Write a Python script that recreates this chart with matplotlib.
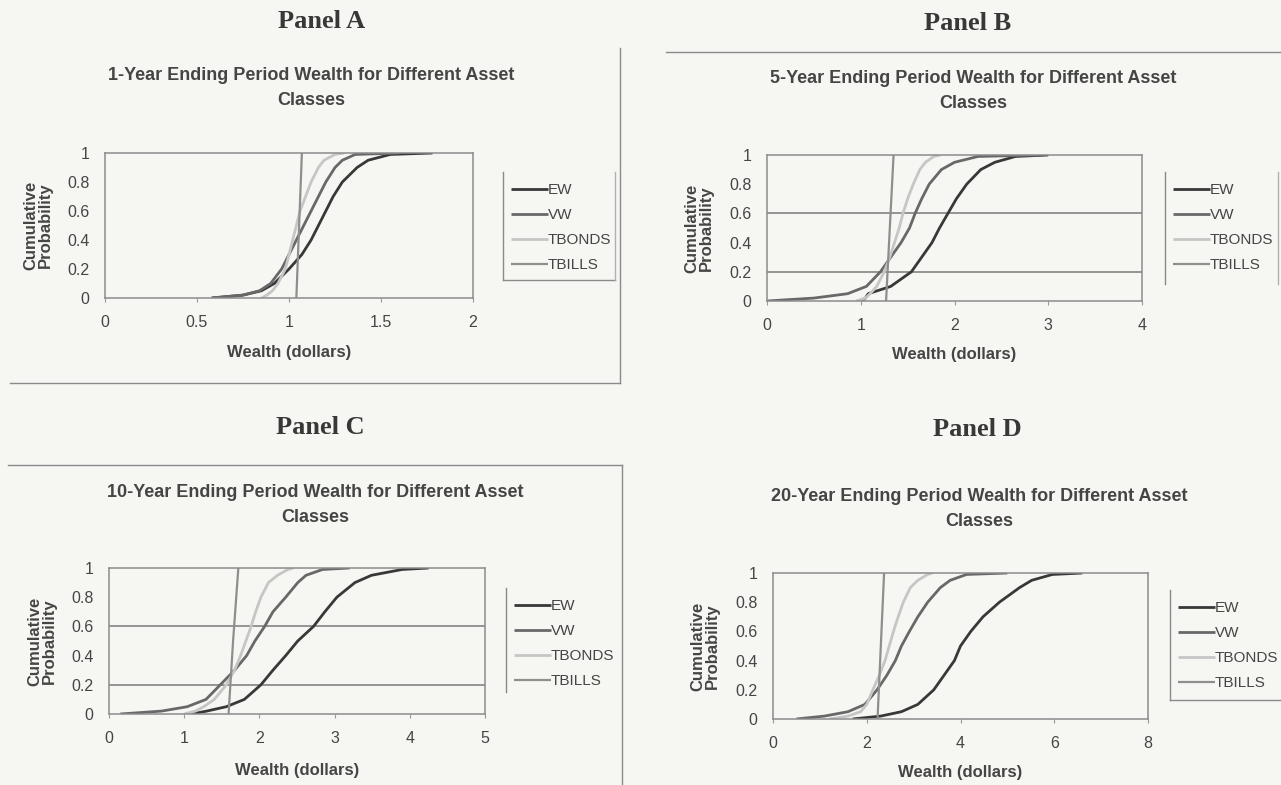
import matplotlib
matplotlib.use('Agg')
import matplotlib.pyplot as plt
from matplotlib.lines import Line2D

W, H = 1281, 785

# ---------------- data ----------------
series = ['EW', 'VW', 'TBONDS', 'TBILLS']
probs = [0, 0.02, 0.05, 0.1, 0.2, 0.3, 0.4, 0.5, 0.6, 0.7, 0.8, 0.9, 0.95, 0.99, 1.0]
bill_probs = [0, 0.5, 1.0]

panel_labels = ['Panel A', 'Panel B', 'Panel C', 'Panel D']
chart_titles = ['1-Year Ending Period Wealth for Different Asset\nClasses',
                '5-Year Ending Period Wealth for Different Asset\nClasses',
                '10-Year Ending Period Wealth for Different Asset\nClasses',
                '20-Year Ending Period Wealth for Different Asset\nClasses']

y_ticks = [0, 0.2, 0.4, 0.6, 0.8, 1]
y_ticklabels = ['0', '0.2', '0.4', '0.6', '0.8', '1']

a_xticks = [0, 0.5, 1, 1.5, 2]
a_xticklabels = ['0', '0.5', '1', '1.5', '2']
a_ew = [0.58, 0.75, 0.85, 0.92, 1.00, 1.07, 1.12, 1.16, 1.20, 1.24, 1.29, 1.37, 1.43, 1.55, 1.78]
a_vw = [0.58, 0.75, 0.84, 0.90, 0.96, 1.00, 1.04, 1.08, 1.12, 1.16, 1.20, 1.25, 1.29, 1.36, 1.60]
a_tbonds = [0.85, 0.88, 0.91, 0.94, 0.98, 1.00, 1.02, 1.04, 1.06, 1.09, 1.12, 1.16, 1.19, 1.25, 1.30]
a_tbills = [1.04, 1.055, 1.07]

b_xticks = [0, 1, 2, 3, 4]
b_xticklabels = ['0', '1', '2', '3', '4']
b_ew = [1.00, 1.05, 1.08, 1.32, 1.54, 1.65, 1.76, 1.84, 1.93, 2.02, 2.13, 2.28, 2.43, 2.65, 3.00]
b_vw = [0.00, 0.50, 0.86, 1.06, 1.21, 1.32, 1.43, 1.52, 1.58, 1.65, 1.73, 1.86, 2.00, 2.25, 2.90]
b_tbonds = [0.95, 1.05, 1.10, 1.17, 1.25, 1.31, 1.36, 1.41, 1.45, 1.50, 1.56, 1.63, 1.69, 1.78, 1.85]
b_tbills = [1.27, 1.31, 1.35]

c_xticks = [0, 1, 2, 3, 4, 5]
c_xticklabels = ['0', '1', '2', '3', '4', '5']
c_ew = [1.10, 1.30, 1.56, 1.80, 2.02, 2.18, 2.35, 2.51, 2.72, 2.87, 3.03, 3.27, 3.49, 3.90, 4.25]
c_vw = [0.15, 0.70, 1.04, 1.29, 1.48, 1.67, 1.83, 1.94, 2.07, 2.18, 2.35, 2.51, 2.62, 2.84, 3.20]
c_tbonds = [1.00, 1.15, 1.26, 1.40, 1.56, 1.67, 1.75, 1.82, 1.89, 1.95, 2.02, 2.12, 2.24, 2.38, 2.45]
c_tbills = [1.59, 1.65, 1.72]

d_xticks = [0, 2, 4, 6, 8]
d_xticklabels = ['0', '2', '4', '6', '8']
d_ew = [1.70, 2.30, 2.74, 3.09, 3.43, 3.65, 3.87, 4.00, 4.22, 4.48, 4.83, 5.26, 5.52, 5.96, 6.60]
d_vw = [0.50, 1.10, 1.60, 1.96, 2.22, 2.43, 2.61, 2.74, 2.91, 3.09, 3.30, 3.57, 3.78, 4.13, 5.00]
d_tbonds = [1.20, 1.60, 1.87, 2.00, 2.13, 2.27, 2.39, 2.48, 2.57, 2.67, 2.78, 2.93, 3.09, 3.30, 3.40]
d_tbills = [2.23, 2.30, 2.37]

# ---------------- styling ----------------
BG = '#f6f6f3'
TXT = '#454545'
FRAME = '#8a8a8a'
colors = {'EW': '#383838', 'VW': '#686868', 'TBONDS': '#c6c6c6', 'TBILLS': '#8e8e8e'}
widths = {'EW': 2.0, 'VW': 2.0, 'TBONDS': 2.0, 'TBILLS': 1.6}
SANS = ['Liberation Sans', 'DejaVu Sans']
SERIF = ['Liberation Serif', 'DejaVu Serif']

fig = plt.figure(figsize=(W / 100, H / 100), dpi=100, facecolor=BG)


def rect(x0, y0, x1, y1):
    return [x0 / W, 1 - y1 / H, (x1 - x0) / W, (y1 - y0) / H]


def fx(x):
    return x / W


def fy(y):
    return 1 - y / H


def hline(x0, x1, y, color=FRAME, lw=1.0):
    fig.add_artist(Line2D([fx(x0), fx(x1)], [fy(y), fy(y)], color=color, lw=lw))


def vline(x, y0, y1, color=FRAME, lw=1.0):
    fig.add_artist(Line2D([fx(x), fx(x)], [fy(y0), fy(y1)], color=color, lw=lw))


panels = [
    dict(box=(105, 153, 473, 298), xmax=2, xticks=a_xticks, xtl=a_xticklabels,
         data=[a_ew, a_vw, a_tbonds, a_tbills], grid=False,
         label_xy=(322, 22), title_xy=(311, 88), ylab_x=38, xlab_y=352,
         leg=(503, 172, 615, 280)),
    dict(box=(767, 155, 1142, 301), xmax=4, xticks=b_xticks, xtl=b_xticklabels,
         data=[b_ew, b_vw, b_tbonds, b_tbills], grid=True,
         label_xy=(968, 23), title_xy=(973, 91), ylab_x=699, xlab_y=355,
         leg=(1165, 172, 1278, 284)),
    dict(box=(109, 568, 485, 714), xmax=5, xticks=c_xticks, xtl=c_xticklabels,
         data=[c_ew, c_vw, c_tbonds, c_tbills], grid=True,
         label_xy=(320, 427), title_xy=(315, 505), ylab_x=42, xlab_y=770,
         leg=(506, 588, 620, 692)),
    dict(box=(773, 573, 1148, 719), xmax=8, xticks=d_xticks, xtl=d_xticklabels,
         data=[d_ew, d_vw, d_tbonds, d_tbills], grid=False,
         label_xy=(977, 430), title_xy=(979, 509), ylab_x=705, xlab_y=773,
         leg=(1170, 590, 1281, 700)),
]

for i, p in enumerate(panels):
    ax = fig.add_axes(rect(*p['box']))
    ax.set_facecolor('none')
    for s, vals in zip(series, p['data']):
        pr = bill_probs if s == 'TBILLS' else probs
        ax.plot(vals, pr, color=colors[s], lw=widths[s], label=s, solid_capstyle='butt')
    ax.set_xlim(0, p['xmax'])
    ax.set_ylim(0, 1)
    ax.set_xticks(p['xticks'])
    ax.set_xticklabels(p['xtl'])
    ax.set_yticks(y_ticks)
    ax.set_yticklabels(y_ticklabels)
    if p['grid']:
        for gy in (0.2, 0.6):
            ax.axhline(gy, color='#7a7a7a', lw=1.1, zorder=0)
    for sp in ax.spines.values():
        sp.set_color('#8c8c8c')
        sp.set_linewidth(1.1)
    ax.tick_params(axis='x', colors='#9a9a9a', labelcolor=TXT, labelsize=11.5,
                   length=3, width=0.8, direction='out', pad=9)
    ax.tick_params(axis='y', colors='#9a9a9a', labelcolor=TXT, labelsize=11.5,
                   length=0, pad=11)
    for t in ax.get_xticklabels() + ax.get_yticklabels():
        t.set_family(SANS)

    # legend
    lx0, ly0, lx1, ly1 = p['leg']
    leg = ax.legend(loc='upper left',
                    bbox_to_anchor=(fx(lx0), fy(ly0 + 3)), bbox_transform=fig.transFigure,
                    frameon=False, prop={'family': SANS, 'size': 11},
                    handlelength=2.4, handletextpad=0.0, labelspacing=0.72,
                    borderpad=0.55, borderaxespad=0)
    for t in leg.get_texts():
        t.set_color(TXT)
    # legend frame (scanned: partially visible sides)
    vline(lx0, ly0, ly1)
    if i in (0, 3):
        hline(lx0, lx1, ly1)
    if i in (0, 1):
        vline(lx1, ly0, ly1, color='#b0b0b0')

    # texts
    fig.text(fx(p['label_xy'][0]), fy(p['label_xy'][1]), panel_labels[i],
             ha='center', va='center', family=SERIF, weight='bold', size=19, color='#383838')
    fig.text(fx(p['title_xy'][0]), fy(p['title_xy'][1]), chart_titles[i],
             ha='center', va='center', family=SANS, weight='bold', size=13,
             color=TXT, linespacing=1.6)
    bx0, by0, bx1, by1 = p['box']
    fig.text(fx(p['ylab_x']), fy((by0 + by1) / 2), 'Cumulative\nProbability',
             ha='center', va='center', rotation=90, family=SANS, weight='bold',
             size=12, color=TXT, linespacing=1.0)
    fig.text(fx((bx0 + bx1) / 2), fy(p['xlab_y']), 'Wealth (dollars)',
             ha='center', va='center', family=SANS, weight='bold', size=12, color=TXT)

# panel frame lines (from the scanned page)
vline(620, 48, 383)
hline(10, 620, 383)
hline(666, 1281, 52)
hline(8, 622, 465)
vline(622, 465, 785)

fig.savefig('out.png', dpi=100, facecolor=BG)
